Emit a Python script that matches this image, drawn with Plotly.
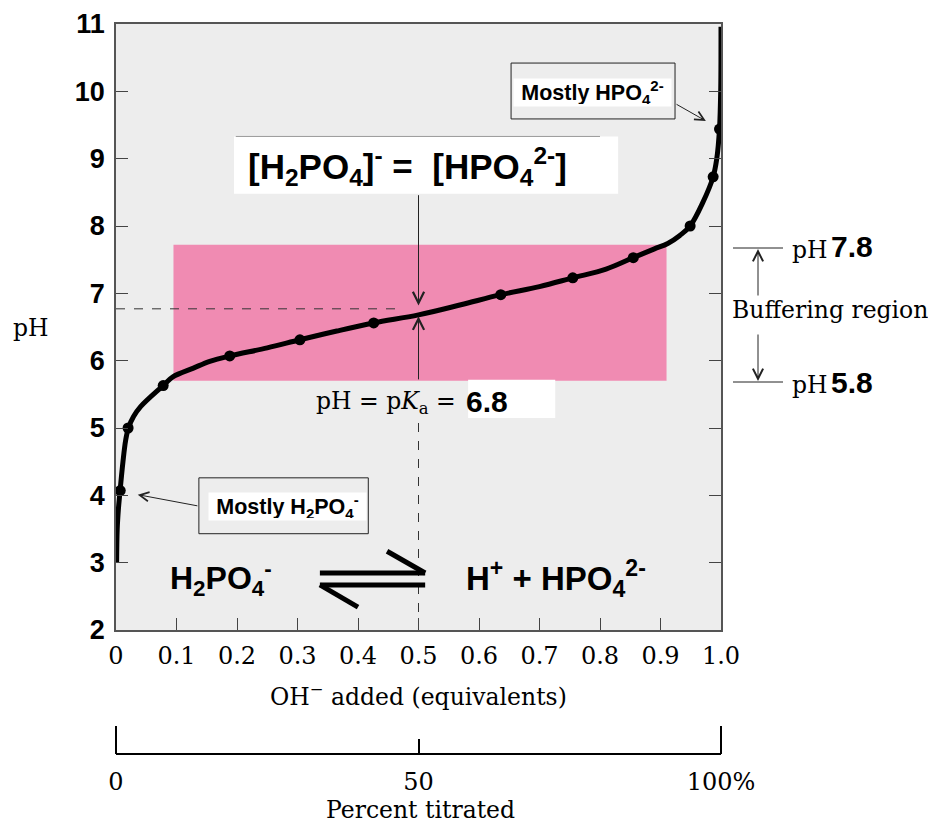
import plotly.graph_objects as go

# titration curve of H2PO4-: OH- added (equivalents) vs pH
curve_oh = [0.001, 0.002, 0.004, 0.006, 0.0115, 0.016, 0.0205, 0.029, 0.041, 0.078, 0.094, 0.128,
            0.155, 0.188, 0.25, 0.304, 0.365, 0.426, 0.5, 0.57, 0.636, 0.7, 0.755, 0.81,
            0.855, 0.89, 0.912, 0.932, 0.949, 0.97, 0.987, 0.993, 0.9975, 0.9995, 1.0]
curve_ph = [3.0, 3.5, 3.8, 4.0, 4.5, 4.82, 5.0, 5.17, 5.32, 5.63, 5.76, 5.89,
            5.99, 6.07, 6.19, 6.31, 6.44, 6.56, 6.68, 6.83, 6.98, 7.1, 7.23, 7.36,
            7.53, 7.66, 7.74, 7.86, 8.0, 8.35, 8.73, 9.0, 9.44, 10.0, 10.96]

# measured points marked on the curve
dot_oh = [0.007, 0.02, 0.078, 0.188, 0.304, 0.426, 0.636, 0.755, 0.855, 0.949, 0.987, 0.9975]
dot_ph = [4.07, 5.0, 5.63, 6.07, 6.31, 6.56, 6.98, 7.23, 7.53, 8.0, 8.73, 9.44]

x_ticks = [0, 0.1, 0.2, 0.3, 0.4, 0.5, 0.6, 0.7, 0.8, 0.9, 1.0]
x_tick_text = ["0", "0.1", "0.2", "0.3", "0.4", "0.5", "0.6", "0.7", "0.8", "0.9", "1.0"]
ph_ticks = [2, 3, 4, 5, 6, 7, 8, 9, 10, 11]
pct_ticks = [0, 50, 100]
pct_tick_text = ["0", "50", "100%"]

# buffering region and midpoint
buffer_oh = [0.095, 0.91]
buffer_ph = [5.7, 7.72]
half_oh = 0.5
pka_dash_ph = 6.77

# the page body adds an 8px margin, so the figure is made 8px smaller each way
W, H = 928, 826
ML, MR, MT, MB = 108, 215, 16, 20
D0 = (814 - 630) / 790   # bottom of the pH axis domain (paper fraction)


# screen pixel -> paper fraction
def px_x(px):
    return (px - 116) / 605


def px_y(py):
    return (814 - py) / 790


SERIF = "DejaVu Serif"
SANS = "Liberation Sans"

fig = go.Figure()

fig.add_trace(go.Scatter(x=curve_oh, y=curve_ph, mode="lines",
                         line=dict(color="black", width=5, shape="spline", smoothing=1.0),
                         hoverinfo="skip", showlegend=False))
fig.add_trace(go.Scatter(x=dot_oh, y=dot_ph, mode="markers",
                         marker=dict(color="black", size=11),
                         showlegend=False))
# carrier for the percent-titrated axis
fig.add_trace(go.Scatter(x=pct_ticks, y=[2, 2, 2], xaxis="x2", yaxis="y", mode="markers",
                         marker=dict(opacity=0), hoverinfo="skip", showlegend=False))

# buffering region
fig.add_shape(type="rect", x0=buffer_oh[0], x1=buffer_oh[1], y0=buffer_ph[0], y1=buffer_ph[1],
              fillcolor="#F08BB2", line_width=0, layer="below")
# white label backgrounds
fig.add_shape(type="rect", x0=0.195, x1=0.83, y0=8.48, y1=9.33,
              fillcolor="white", line_width=0, layer="below")
fig.add_shape(type="line", x0=0.198, x1=0.80, y0=9.33, y1=9.33,
              line=dict(color="#999", width=1), layer="below")
fig.add_shape(type="rect", x0=0.582, x1=0.726, y0=5.15, y1=5.715,
              fillcolor="white", line_width=0, layer="below")

# dashed guides to the midpoint
fig.add_shape(type="line", x0=0, x1=0.466, y0=pka_dash_ph, y1=pka_dash_ph,
              line=dict(color="#333", width=1, dash="dash"), layer="below")
fig.add_shape(type="line", x0=half_oh, x1=half_oh, y0=2, y1=5.12,
              line=dict(color="#333", width=1, dash="dash"), layer="below")

# boxes around "Mostly ..." labels
fig.add_shape(type="rect", x0=0.653, x1=0.924, y0=9.59, y1=10.42,
              line=dict(color="#222", width=1))
fig.add_shape(type="rect", x0=0.137, x1=0.417, y0=3.43, y1=4.26,
              line=dict(color="#222", width=1))

# equilibrium harpoons
harp = dict(color="black", width=5)
fig.add_shape(type="line", x0=0.337, x1=0.511, y0=2.847, y1=2.847, line=harp)
fig.add_shape(type="line", x0=0.448, x1=0.511, y0=3.17, y1=2.847, line=harp)
fig.add_shape(type="line", x0=0.337, x1=0.511, y0=2.669, y1=2.669, line=harp)
fig.add_shape(type="line", x0=0.337, x1=0.40, y0=2.669, y1=2.34, line=harp)

# right-hand buffering region marks
for py in (248, 382):
    fig.add_shape(type="line", xref="paper", yref="paper", x0=px_x(733), x1=px_x(783),
                  y0=px_y(py), y1=px_y(py), line=dict(color="#222", width=1))

# end ticks of the percent axis
for px in (116, 721):
    fig.add_shape(type="line", xref="paper", yref="paper", x0=px_x(px), x1=px_x(px),
                  y0=px_y(754), y1=px_y(726), line=dict(color="black", width=2))

ann = []


def text(x, y, s, size, family=SERIF, weight="normal", xref="x", yref="y",
         xanchor="center", yanchor="middle", **kw):
    ann.append(dict(x=x, y=y, text=s, xref=xref, yref=yref, showarrow=False,
                    xanchor=xanchor, yanchor=yanchor,
                    font=dict(family=family, size=size, color="black", weight=weight), **kw))


def arrow(x, y, ax, ay, xref="x", yref="y", axref="x", ayref="y", size=2.2):
    ann.append(dict(x=x, y=y, ax=ax, ay=ay, xref=xref, yref=yref, axref=axref, ayref=ayref,
                    text="", showarrow=True, arrowhead=5, arrowsize=size, arrowwidth=1,
                    arrowcolor="#222", standoff=0, startstandoff=0))


text(0.481, 8.88, "[H<sub>2</sub>PO<sub>4</sub>]<sup>-</sup> =&nbsp;&nbsp;[HPO<sub>4</sub><sup>2-</sup>]",
     35, SANS, "bold")
arrow(half_oh, 6.82, half_oh, 8.48)
arrow(half_oh, 6.66, half_oh, buffer_ph[0])

text(0.565, 5.38, "pH = p<i>K</i><sub>a</sub> =", 23.5, xanchor="right")
text(0.576, 5.4, "6.8", 30, SANS, "bold", xanchor="left")

text(0.787, 9.98, "Mostly HPO<sub>4</sub><sup>2-</sup>", 21.5, SANS, "bold",
     bgcolor="white", width=153, height=23, borderpad=2)
arrow(0.975, 9.56, 0.924, 9.82, size=1.8)
text(0.283, 3.83, "Mostly H<sub>2</sub>PO<sub>4</sub><sup>-</sup>", 21.5, SANS, "bold",
     bgcolor="white", width=153, height=23, borderpad=2)
arrow(0.036, 4.01, 0.137, 3.84, size=1.8)

text(0.174, 2.77, "H<sub>2</sub>PO<sub>4</sub><sup>-</sup>", 32, SANS, "bold")
text(0.728, 2.77, "H<sup>+</sup> + HPO<sub>4</sub><sup>2-</sup>", 33, SANS, "bold")

# outside labels
text(px_x(31), px_y(328), "pH", 23.5, xref="paper", yref="paper")
text(px_x(418), px_y(695), "OH<sup>−</sup> added (equivalents)", 23.5, xref="paper", yref="paper")
text(px_x(420), px_y(810), "Percent titrated", 23.5, xref="paper", yref="paper")

text(px_x(790), px_y(250), "pH", 23.5, xref="paper", yref="paper", xanchor="left")
text(px_x(829), px_y(247), "7.8", 30, SANS, "bold", xref="paper", yref="paper", xanchor="left")
text(px_x(790), px_y(385), "pH", 23.5, xref="paper", yref="paper", xanchor="left")
text(px_x(829), px_y(382), "5.8", 30, SANS, "bold", xref="paper", yref="paper", xanchor="left")
text(px_x(830), px_y(310), "Buffering region", 23.5, xref="paper", yref="paper")
arrow(px_x(758), px_y(249), 0, 48, "paper", "paper", "pixel", "pixel", size=2)
arrow(px_x(758), px_y(381), 0, -48, "paper", "paper", "pixel", "pixel", size=2)

fig.update_layout(
    width=W, height=H,
    margin=dict(l=ML, r=MR, t=MT, b=MB),
    paper_bgcolor="white",
    plot_bgcolor="#EDEDED",
    showlegend=False,
    annotations=ann,
    xaxis=dict(range=[0, 1], domain=[0, 1], anchor="y", tickvals=x_ticks, ticktext=x_tick_text,
               ticks="inside", ticklen=12, tickcolor="#444", tickwidth=1,
               showline=True, mirror=True, linecolor="#555", linewidth=1.5,
               showgrid=False, zeroline=False, ticklabelstandoff=3, automargin=False,
               tickfont=dict(family=SERIF, size=24, color="black")),
    xaxis2=dict(range=[0, 100], domain=[0, 1], anchor="free", position=px_y(754),
                overlaying="x", side="bottom", tickvals=pct_ticks, ticktext=pct_tick_text,
                ticks="inside", ticklen=14, tickwidth=2, tickcolor="black",
                showline=True, linecolor="black", linewidth=2, automargin=False,
                showgrid=False, zeroline=False, ticklabelstandoff=6,
                tickfont=dict(family=SERIF, size=24, color="black")),
    yaxis=dict(range=[2, 11], domain=[D0, 1], tickvals=ph_ticks,
               ticks="inside", ticklen=12, tickcolor="#444", tickwidth=1,
               showline=True, mirror="ticks", linecolor="#555", linewidth=1.5,
               showgrid=False, zeroline=False, ticklabelstandoff=4, automargin=False,
               tickfont=dict(family=SANS, size=27, color="black", weight="bold")),
)

fig.write_html("out.html")
